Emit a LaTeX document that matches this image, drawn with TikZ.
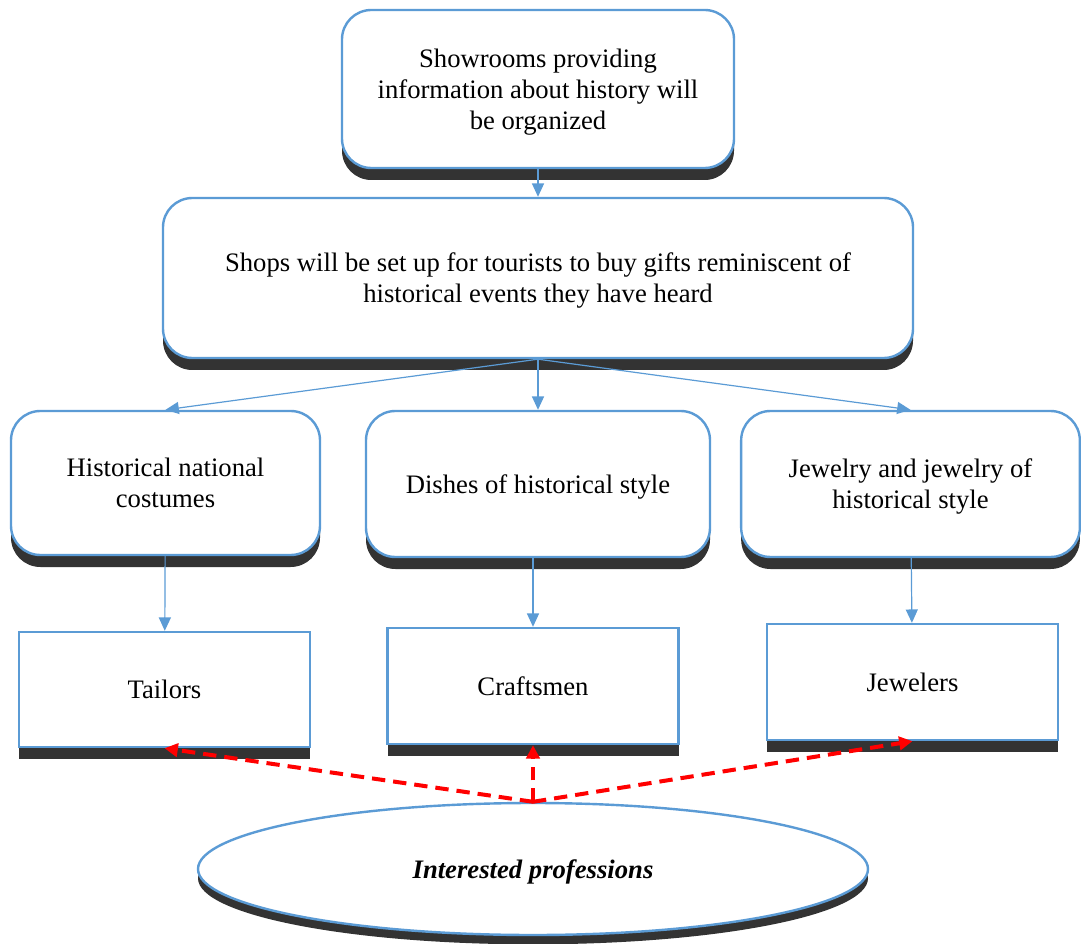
\documentclass[tikz,border=0pt]{standalone}
\usepackage{fontspec}
\setmainfont{Liberation Serif}
\usetikzlibrary{shapes,arrows.meta,shadows}

\definecolor{boxblue}{HTML}{5B9BD5}
\definecolor{shade}{HTML}{333333}

\tikzset{
  shadowed/.style={drop shadow={shadow xshift=0pt, shadow yshift=-9pt, fill=shade, opacity=1}},
  roundbox/.style={draw=boxblue, line width=1.8pt, fill=white, rounded corners=22pt, align=center, inner sep=0pt, shadowed},
  plainbox/.style={draw=boxblue, line width=1.8pt, fill=white, align=center, inner sep=0pt, shadowed},
  flow/.style={draw=boxblue, line width=0.9pt, -{Triangle[length=10pt,width=9pt]}},
  interest/.style={draw=red, line width=3pt, dash pattern=on 10pt off 6pt, -{Triangle[length=10pt,width=10pt]}}
}

\begin{document}
\begin{tikzpicture}[x=0.75pt, y=-0.75pt, every node/.style={font=\fontsize{20}{23.25}\selectfont, text depth=-2pt}]
  \useasboundingbox (0,0) rectangle (1081,944);

  \node[roundbox, minimum width=294pt, minimum height=118.5pt] (show) at (538,89) {Showrooms providing\\information about history will\\be organized};
  \node[roundbox, minimum width=562.5pt, minimum height=120pt] (shops) at (538,278) {Shops will be set up for tourists to buy gifts reminiscent of\\historical events they have heard};

  \node[roundbox, minimum width=231.75pt, minimum height=108pt] (costume) at (165.5,483) {Historical national\\costumes};
  \node[roundbox, minimum width=258pt, minimum height=109.5pt] (dish) at (538,484) {Dishes of historical style};
  \node[roundbox, minimum width=254pt, minimum height=109.5pt] (jewel) at (910.5,484) {Jewelry and jewelry of\\historical style};

  \node[plainbox, minimum width=218.25pt, minimum height=86.25pt] (tailors) at (164.5,689.5) {Tailors};
  \node[plainbox, minimum width=218.25pt, minimum height=87pt] (crafts) at (533,686) {Craftsmen};
  \node[plainbox, minimum width=218.25pt, minimum height=87pt] (jewelers) at (912.5,682) {Jewelers};

  \node[draw=boxblue, line width=1.8pt, fill=white, ellipse, inner sep=0pt, minimum width=502.5pt, minimum height=99pt,
        drop shadow={shadow xshift=0pt, shadow yshift=-7pt, fill=shade, opacity=1}] (prof) at (533,869) {\textbf{\textit{Interested professions}}};

  \draw[flow] (show) -- (shops);
  \draw[flow] (shops.south) -- (costume.north);
  \draw[flow] (shops.south) -- (dish.north);
  \draw[flow] (shops.south) -- (jewel.north);
  \draw[flow] (costume) -- (tailors);
  \draw[flow] (dish.south -| crafts) -- (crafts);
  \draw[flow] (jewel) -- (jewelers);

  \draw[interest] (prof.north) -- (tailors.south);
  \draw[interest] (prof.north) -- (crafts.south);
  \draw[interest] (prof.north) -- (jewelers.south);
\end{tikzpicture}
\end{document}
